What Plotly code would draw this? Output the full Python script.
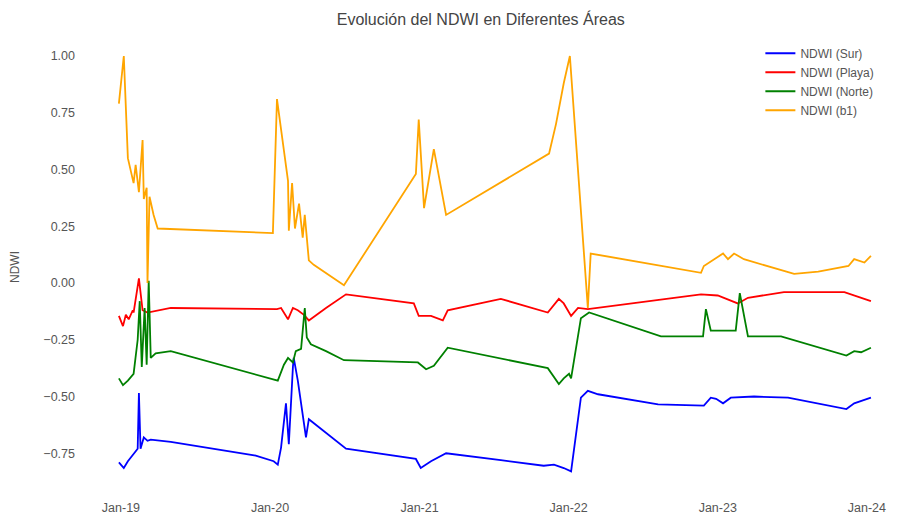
import plotly.graph_objects as go

# NDWI (Sur)
sur_dates = [
    "2018-12-27", "2019-01-08", "2019-01-18", "2019-02-01", "2019-02-11",
    "2019-02-14", "2019-02-18", "2019-02-26", "2019-03-07", "2019-03-15",
    "2019-05-03", "2019-11-27", "2020-01-10", "2020-01-20", "2020-01-28",
    "2020-02-09", "2020-02-16", "2020-02-26", "2020-02-28", "2020-03-09",
    "2020-03-21", "2020-03-29", "2020-04-05", "2020-05-17", "2020-07-05",
    "2020-12-23", "2021-01-04", "2021-01-29", "2021-03-07", "2021-07-19",
    "2021-11-01", "2021-11-26", "2021-12-20", "2022-01-07", "2022-01-31",
    "2022-02-17", "2022-03-14", "2022-08-08", "2022-11-28", "2022-12-15",
    "2022-12-28", "2023-01-14", "2023-02-02", "2023-03-31", "2023-06-22",
    "2023-11-12", "2023-12-01", "2024-01-11",
]
sur_values = [
    -0.79, -0.815, -0.785, -0.75, -0.73,
    -0.485, -0.73, -0.68, -0.695, -0.69,
    -0.70, -0.76, -0.785, -0.80, -0.725,
    -0.53, -0.71, -0.37, -0.33, -0.43,
    -0.58, -0.68, -0.60, -0.66, -0.73,
    -0.775, -0.815, -0.785, -0.75, -0.78,
    -0.805, -0.80, -0.815, -0.83, -0.505,
    -0.475, -0.49, -0.535, -0.54, -0.505,
    -0.51, -0.53, -0.505, -0.50, -0.505,
    -0.555, -0.53, -0.505,
]

# NDWI (Playa)
playa_dates = [
    "2018-12-27", "2019-01-06", "2019-01-13", "2019-01-20", "2019-01-30",
    "2019-02-01", "2019-02-14", "2019-02-23", "2019-03-07", "2019-05-03",
    "2020-01-18", "2020-01-28", "2020-02-14", "2020-02-26", "2020-03-09",
    "2020-03-24", "2020-04-05", "2020-05-17", "2020-07-05", "2020-12-18",
    "2020-12-30", "2021-01-29", "2021-02-27", "2021-03-11", "2021-07-19",
    "2021-11-11", "2021-12-08", "2021-12-20", "2022-01-07", "2022-01-24",
    "2022-02-17", "2022-11-21", "2023-01-01", "2023-02-02", "2023-02-19",
    "2023-03-16", "2023-06-12", "2023-11-07", "2024-01-11",
]
playa_values = [
    -0.145, -0.19, -0.14, -0.16, -0.12,
    -0.13, 0.02, -0.12, -0.13, -0.11,
    -0.115, -0.11, -0.16, -0.11, -0.12,
    -0.14, -0.165, -0.11, -0.05, -0.09,
    -0.145, -0.145, -0.165, -0.12, -0.07,
    -0.13, -0.07, -0.09, -0.145, -0.11,
    -0.115, -0.05, -0.055, -0.08, -0.09,
    -0.065, -0.04, -0.04, -0.08,
]

# NDWI (Norte)
norte_dates = [
    "2018-12-27", "2019-01-06", "2019-01-18", "2019-02-01", "2019-02-11",
    "2019-02-16", "2019-02-21", "2019-02-28", "2019-03-05", "2019-03-10",
    "2019-03-15", "2019-03-27", "2019-05-03", "2020-01-20", "2020-02-04",
    "2020-02-14", "2020-02-26", "2020-03-04", "2020-03-17", "2020-03-26",
    "2020-03-31", "2020-04-10", "2020-05-17", "2020-06-30", "2020-12-28",
    "2021-01-17", "2021-02-05", "2021-03-11", "2021-11-11", "2021-12-08",
    "2021-12-20", "2022-01-02", "2022-01-07", "2022-01-31", "2022-02-20",
    "2022-08-15", "2022-11-26", "2022-12-03", "2022-12-15", "2023-02-14",
    "2023-02-24", "2023-03-16", "2023-06-05", "2023-11-12", "2023-12-01",
    "2023-12-18", "2024-01-11",
]
norte_values = [
    -0.42, -0.45, -0.43, -0.40, -0.25,
    -0.08, -0.37, -0.11, -0.36, 0.01,
    -0.33, -0.31, -0.30, -0.43, -0.36,
    -0.33, -0.35, -0.30, -0.29, -0.11,
    -0.24, -0.27, -0.30, -0.34, -0.35,
    -0.38, -0.365, -0.285, -0.375, -0.445,
    -0.42, -0.40, -0.42, -0.155, -0.13,
    -0.235, -0.235, -0.115, -0.21, -0.21,
    -0.045, -0.235, -0.235, -0.32, -0.30,
    -0.305, -0.285,
]

# NDWI (b1)
b1_dates = [
    "2018-12-27", "2019-01-08", "2019-01-18", "2019-01-25", "2019-02-01",
    "2019-02-06", "2019-02-14", "2019-02-23", "2019-02-26", "2019-03-05",
    "2019-03-07", "2019-03-12", "2019-03-22", "2019-04-01", "2020-01-08",
    "2020-01-18", "2020-02-14", "2020-02-16", "2020-02-24", "2020-03-02",
    "2020-03-12", "2020-03-21", "2020-03-26", "2020-04-05", "2020-04-17",
    "2020-06-30", "2020-12-23", "2020-12-30", "2021-01-12", "2021-02-05",
    "2021-03-07", "2021-11-14", "2021-12-01", "2021-12-20", "2022-01-04",
    "2022-02-17", "2022-02-24", "2022-11-21", "2022-11-28", "2023-01-14",
    "2023-01-26", "2023-02-10", "2023-03-06", "2023-07-07", "2023-09-04",
    "2023-11-17", "2023-12-01", "2023-12-26", "2024-01-11",
]
b1_values = [
    0.79, 1.00, 0.55, 0.50, 0.44,
    0.52, 0.40, 0.63, 0.37, 0.42,
    0.00, 0.38, 0.30, 0.24, 0.22,
    0.81, 0.45, 0.23, 0.44, 0.24,
    0.35, 0.20, 0.30, 0.10, 0.08,
    -0.01, 0.48, 0.72, 0.33, 0.59,
    0.30, 0.57, 0.70, 0.88, 1.00,
    -0.11, 0.13, 0.045, 0.075, 0.13,
    0.105, 0.13, 0.105, 0.04, 0.05,
    0.075, 0.105, 0.09, 0.12,
]

series = [
    ("NDWI (Sur)", sur_dates, sur_values, "blue"),
    ("NDWI (Playa)", playa_dates, playa_values, "red"),
    ("NDWI (Norte)", norte_dates, norte_values, "green"),
    ("NDWI (b1)", b1_dates, b1_values, "orange"),
]

fig = go.Figure()
for name, dates, values, color in series:
    fig.add_scatter(
        x=dates,
        y=values,
        name=name,
        mode="lines",
        line=dict(color=color, width=1.8),
    )

# the page body adds a few pixels of margin, so the figure is a bit smaller
fig.update_layout(
    width=891,
    height=509,
    paper_bgcolor="white",
    plot_bgcolor="white",
    font=dict(family="Liberation Sans, Arial, sans-serif", size=12.5, color="#555"),
    title=dict(
        text="Evolución del NDWI en Diferentes Áreas",
        x=0.501,
        xref="paper",
        xanchor="center",
        y=0.978,
        yref="container",
        yanchor="middle",
        font=dict(size=16, color="#444"),
    ),
    margin={"t": 28, "r": 15, "l": 68, "b": 19},
    showlegend=True,
    legend=dict(
        x=0.847,
        y=0.994,
        xanchor="left",
        yanchor="top",
        bgcolor="rgba(0,0,0,0)",
        itemwidth=30,
        tracegroupgap=0,
        font=dict(size=12, color="#555"),
    ),
    xaxis=dict(
        range=["2018-09-13", "2024-02-12"],
        tickformat="%b-%y",
        dtick="M12",
        tick0="2019-01-01",
        showgrid=False,
        zeroline=False,
        showline=False,
        ticks="",
        automargin=False,
    ),
    yaxis=dict(
        title=dict(text="NDWI", standoff=22, font=dict(size=12, color="#555")),
        range=[-0.947, 1.088],
        tickvals=[-0.75, -0.5, -0.25, 0, 0.25, 0.5, 0.75, 1.0],
        tickformat=".2f",
        showgrid=False,
        zeroline=False,
        showline=False,
        ticks="",
        automargin=False,
    ),
)

fig.write_html("out.html")
